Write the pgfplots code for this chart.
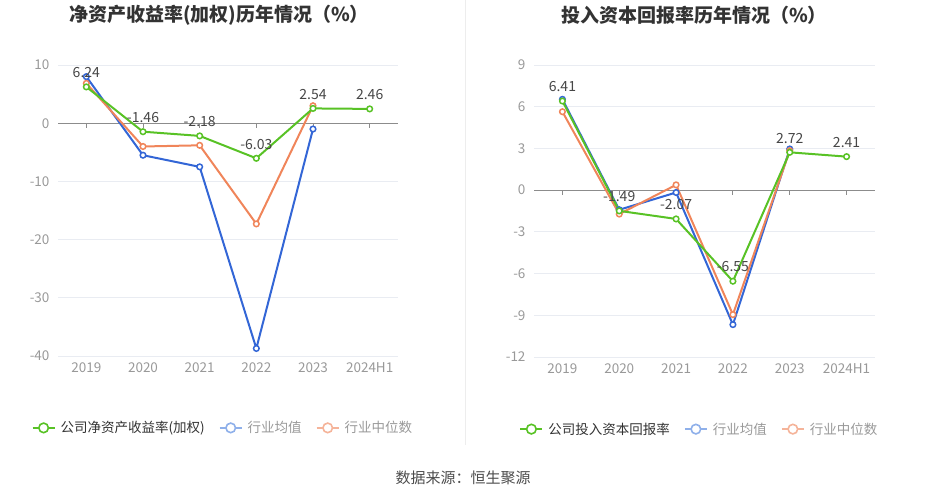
\documentclass[border=0pt]{standalone}
\usepackage{pgfplots}
\pgfplotsset{compat=1.18}
\usepackage{fontspec}
\setmainfont{Noto Sans CJK SC}

\definecolor{cgreen}{HTML}{58C225}
\definecolor{cblue}{HTML}{3366D6}
\definecolor{corange}{HTML}{F0855A}
\definecolor{lblue}{HTML}{8FB0EA}
\definecolor{lorange}{HTML}{F5B49A}
\definecolor{tickgray}{HTML}{999999}
\definecolor{gridgray}{HTML}{E9ECF2}
\definecolor{zerogray}{HTML}{8C8C8C}
\definecolor{labgray}{HTML}{464646}

\pgfplotsset{
  panel/.style={
    scale only axis, width=340bp, height=291bp,
    axis line style={draw=none},
    xmin=-0.5, xmax=5.5,
    xtick={0,...,5},
    xticklabels={2019,2020,2021,2022,2023,2024H1},
    major tick length=0pt,
    ymajorgrids, major grid style={gridgray, line width=0.8bp},
    tick label style={font=\fontsize{13.5bp}{15bp}\selectfont, text=tickgray},
    xticklabel style={yshift=-3bp},
    yticklabel style={xshift=-5bp},
    /pgf/number format/assume math mode=true,
    clip=false,
    legend columns=-1,
    legend style={draw=none, fill=none, at={(0.485,-0.247)}, anchor=center,
      font=\fontsize{13.5bp}{15bp}\selectfont,
      /tikz/every odd column/.append style={column sep=3bp},
      /tikz/every even column/.append style={column sep=12bp}},
    legend image code/.code={
      \draw[line width=2bp] (0bp,0bp) -- (22bp,0bp);
      \draw[line width=1.6bp, fill=white] (11bp,0bp) circle (4.8bp);
    },
  },
  ser/.style={line width=2bp, mark=*, mark size=2.8bp,
    mark options={fill=white, line width=1.5bp}},
  lab/.style={nodes near coords, point meta=explicit symbolic,
    every node near coord/.append style={font=\fontsize{14bp}{16bp}\selectfont,
      text=labgray, yshift=5bp}},
}

\begin{document}
\begin{tikzpicture}
\useasboundingbox (0,0) rectangle (926bp,-500bp);

\node[font=\fontsize{19bp}{22bp}\selectfont\bfseries, text=black!80] at (219bp,-15bp) {净资产收益率(加权)历年情况（\%）};
\node[font=\fontsize{19bp}{22bp}\selectfont\bfseries, text=black!80] at (694bp,-15bp) {投入资本回报率历年情况（\%）};
\draw[black!7, line width=0.8bp] (465bp,0bp) -- (465bp,-445bp);
\node[font=\fontsize{15bp}{17bp}\selectfont, text=black!70] at (463bp,-478bp) {数据来源：恒生聚源};

% left panel
\begin{axis}[panel, at={(58bp,-356bp)}, anchor=south west,
  ymin=-40, ymax=10, ytick={-40,-30,...,10}]
  \draw[zerogray, line width=1bp] (axis cs:-0.5,0) -- (axis cs:5.5,0);
  \pgfplotsinvokeforeach{0,...,5}{\draw[zerogray, line width=1bp] (axis cs:#1,0) -- ([yshift=-5bp]axis cs:#1,0);}
  \addlegendimage{cgreen}
  \addlegendentry{\textcolor{black!80}{公司净资产收益率(加权)}}
  \addlegendimage{lblue}
  \addlegendentry{\textcolor{tickgray}{行业均值}}
  \addlegendimage{lorange}
  \addlegendentry{\textcolor{tickgray}{行业中位数}}
  \addplot[ser, cblue, forget plot] coordinates {(0,8.0) (1,-5.5) (2,-7.5) (3,-38.7) (4,-1.0)};
  \addplot[ser, corange, forget plot] coordinates {(0,6.85) (1,-4.0) (2,-3.8) (3,-17.3) (4,3.0)};
  \addplot[ser, cgreen, lab, forget plot] table[meta=l] {
    x y l
    0 6.24 6.24
    1 -1.46 -1.46
    2 -2.18 -2.18
    3 -6.03 -6.03
    4 2.54 2.54
    5 2.46 2.46
  };
\end{axis}

% right panel
\begin{axis}[panel, at={(534bp,-357bp)}, anchor=south west, width=341bp, height=292bp,
  ymin=-12, ymax=9, ytick={-12,-9,...,9}]
  \draw[zerogray, line width=1bp] (axis cs:-0.5,0) -- (axis cs:5.5,0);
  \pgfplotsinvokeforeach{0,...,5}{\draw[zerogray, line width=1bp] (axis cs:#1,0) -- ([yshift=-5bp]axis cs:#1,0);}
  \addlegendimage{cgreen}
  \addlegendentry{\textcolor{black!80}{公司投入资本回报率}}
  \addlegendimage{lblue}
  \addlegendentry{\textcolor{tickgray}{行业均值}}
  \addlegendimage{lorange}
  \addlegendentry{\textcolor{tickgray}{行业中位数}}
  \addplot[ser, cblue, forget plot] coordinates {(0,6.53) (1,-1.41) (2,-0.17) (3,-9.67) (4,2.96)};
  \addplot[ser, corange, forget plot] coordinates {(0,5.64) (1,-1.72) (2,0.38) (3,-8.95) (4,2.84)};
  \addplot[ser, cgreen, lab, forget plot] table[meta=l] {
    x y l
    0 6.41 6.41
    1 -1.49 -1.49
    2 -2.07 -2.07
    3 -6.55 -6.55
    4 2.72 2.72
    5 2.41 2.41
  };
\end{axis}
\end{tikzpicture}
\end{document}
